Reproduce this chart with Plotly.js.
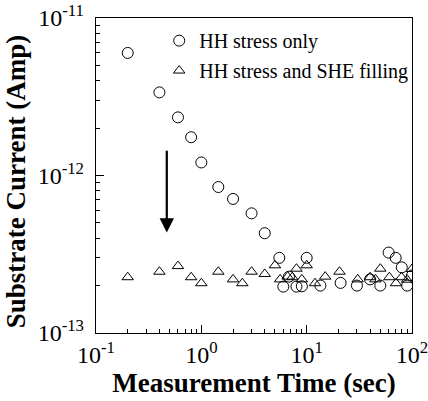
<!DOCTYPE html>
<html><head><meta charset="utf-8">
<script src="https://cdn.plot.ly/plotly-3.0.1.min.js"></script>
<style>html,body{margin:0;padding:0;background:#fff}#chart{width:428px;height:401px}</style>
</head><body><div id="chart"></div>
<script>
// HH stress only (circles)
const hhTime = [0.2,0.4,0.6,0.8,1.0,1.45,2.0,3.0,4.0,5.5,6.0,6.8,8.0,9.0,10,13.5,21,30,40,50,60,70,80,90,100];
const hhCurrent = [6.0e-12,3.37e-12,2.34e-12,1.75e-12,1.21e-12,8.45e-13,7.1e-13,5.75e-13,4.3e-13,3.0e-13,1.97e-13,2.28e-13,1.97e-13,1.98e-13,3.0e-13,2.0e-13,2.08e-13,2.0e-13,2.19e-13,2.0e-13,3.24e-13,3.0e-13,2.61e-13,2.0e-13,2.32e-13];
// HH stress and SHE filling (triangles)
const sheTime = [0.2,0.4,0.6,0.8,1.0,1.45,2.0,2.45,3.0,4.0,5.0,5.6,6.6,7.3,8.0,9.0,10,12,15,20.5,30.5,40,45,50,61,70.5,79.5,90,100];
const sheCurrent = [2.26e-13,2.45e-13,2.66e-13,2.26e-13,2.07e-13,2.45e-13,2.19e-13,2.07e-13,2.45e-13,2.37e-13,2.69e-13,2.19e-13,2.28e-13,2.26e-13,2.56e-13,2.19e-13,2.69e-13,2.07e-13,2.28e-13,2.45e-13,2.19e-13,2.26e-13,2.19e-13,2.56e-13,2.26e-13,2.07e-13,2.26e-13,2.18e-13,2.55e-13];
const seriesNames = ["HH stress only","HH stress and SHE filling"];
const xTickVals = [0.1, 1, 10, 100];
const xTickText = ["10<sup>-1</sup>","10<sup>0</sup>","10<sup>1</sup>","10<sup>2</sup>"];
const yTickVals = [1e-13, 1e-12, 1e-11];
const yTickText = ["10<sup>-13</sup>","10<sup>-12</sup>","10<sup>-11</sup>"];
const xTitle = "Measurement Time (sec)";
const yTitle = "Substrate Current (Amp)";
const arrowX = 0.47, arrowTop = 1.47e-12, arrowTip = 4.34e-13;

const FONT = "Liberation Serif, Times New Roman, serif";
const traces = [
  {x: hhTime, y: hhCurrent, mode: "markers", type: "scatter", name: seriesNames[0], legend: "legend",
   marker: {symbol: "circle-open", size: 11, color: "#000", line: {width: 1, color: "#000"}}},
  {x: sheTime, y: sheCurrent, mode: "markers", type: "scatter", name: seriesNames[1], legend: "legend2",
   marker: {symbol: "triangle-up-open", size: 10, color: "#000", line: {width: 1, color: "#000"}}}
];
const axisCommon = {
  type: "log", showgrid: false, zeroline: false, showline: true, linecolor: "#000", linewidth: 1.2,
  mirror: true, ticks: "inside", ticklen: 8, tickwidth: 1, tickcolor: "#000",
  tickmode: "array", tickfont: {family: FONT, size: 24, color: "#000"}, ticklabeloverflow: "allow",
  minor: {ticks: "inside", ticklen: 4, tickwidth: 1, tickcolor: "#000", dtick: "D1", showgrid: false}
};
const layout = {
  width: 428, height: 401,
  margin: {l: 96, r: 16, t: 18, b: 68},
  paper_bgcolor: "#fff", plot_bgcolor: "#fff",
  font: {family: FONT, color: "#000"},
  showlegend: true,
  xaxis: Object.assign({}, axisCommon, {range: [-1, 2], tickvals: xTickVals, ticktext: xTickText,
    title: {text: xTitle, font: {family: FONT, size: 27, color: "#000", weight: "bold"}, standoff: 0}}),
  yaxis: Object.assign({}, axisCommon, {range: [-13, -11], tickvals: yTickVals, ticktext: yTickText,
    ticklabelstandoff: 6}),
  legend: {x: 0.2, y: 0.99, xanchor: "left", yanchor: "top", bgcolor: "rgba(0,0,0,0)",
    font: {family: FONT, size: 20, color: "#000"}},
  legend2: {x: 0.2, y: 0.895, xanchor: "left", yanchor: "top", bgcolor: "rgba(0,0,0,0)",
    font: {family: FONT, size: 20, color: "#000"}},
  annotations: [{
    xref: "x", yref: "y", axref: "x", ayref: "y",
    x: Math.log10(arrowX), y: Math.log10(arrowTip),
    ax: Math.log10(arrowX), ay: Math.log10(arrowTop),
    showarrow: true, arrowhead: 2, arrowsize: 1.3, arrowwidth: 2.2, arrowcolor: "#000", text: ""
  }, {
    xref: "paper", yref: "paper", x: -0.255, y: 0.48, xanchor: "center", yanchor: "middle",
    textangle: -90, showarrow: false, text: yTitle,
    font: {family: FONT, size: 27, color: "#000", weight: "bold"}
  }]
};
Plotly.newPlot("chart", traces, layout, {displayModeBar: false, staticPlot: true});
</script></body></html>
